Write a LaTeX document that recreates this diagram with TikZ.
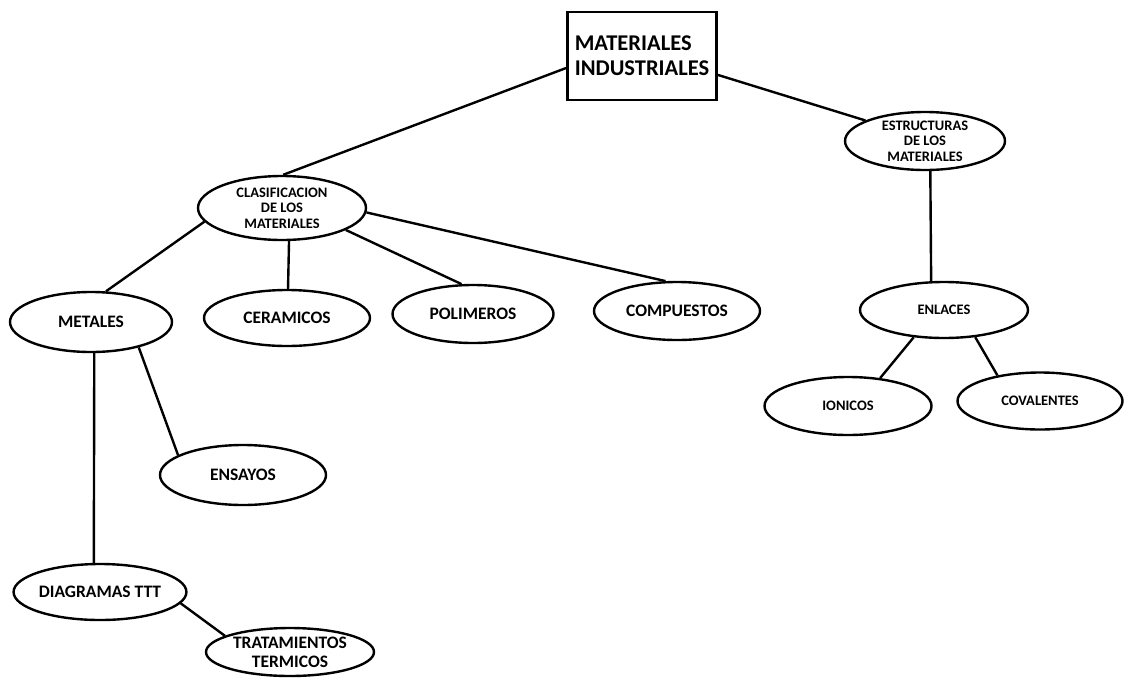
\documentclass[tikz,border=0pt]{standalone}
\usepackage{fontspec}
\setmainfont{Carlito}
\usetikzlibrary{shapes.geometric}
\tikzset{
  ov/.style={draw, ellipse, line width=2.4pt, inner sep=0pt, align=center, font=\bfseries\fontsize{17.5}{19}\selectfont},
  ovs/.style={ov, font=\bfseries\fontsize{14.5}{15.5}\selectfont},
  link/.style={line width=2.4pt},
}
\begin{document}
\begin{tikzpicture}[x=1pt,y=-1pt]
\useasboundingbox (0,0) rectangle (1124,678);
\node[draw, line width=2.8pt, minimum width=149pt, minimum height=88pt, inner sep=0pt, align=left, font=\bfseries\fontsize{22.5}{25}\selectfont] (box) at (642,56) {MATERIALES\\INDUSTRIALES};
\node[ovs, minimum width=168pt, minimum height=64pt] (clas) at (282,208) {CLASIFICACION\\DE LOS\\MATERIALES};
\node[ovs, minimum width=160pt, minimum height=58pt] (est) at (925,141) {ESTRUCTURAS\\DE LOS\\MATERIALES};
\node[ov, minimum width=162pt, minimum height=60pt] (met) at (91,322) {METALES};
\node[ov, minimum width=166pt, minimum height=56pt] (cer) at (287,318) {CERAMICOS};
\node[ov, minimum width=161pt, minimum height=58pt] (pol) at (473,314) {POLIMEROS};
\node[ov, minimum width=166pt, minimum height=58pt] (com) at (677,311) {COMPUESTOS};
\node[ov, minimum width=166pt, minimum height=60pt] (ens) at (243,475) {ENSAYOS};
\node[ov, minimum width=166pt, minimum height=56pt] (dia) at (100,592) {DIAGRAMAS TTT};
\node[ov, minimum width=168pt, minimum height=48pt] (tra) at (290,652) {TRATAMIENTOS\\TERMICOS};
\node[ovs, minimum width=168pt, minimum height=56pt] (enl) at (944,310) {ENLACES};
\node[ovs, minimum width=167pt, minimum height=58pt] (ion) at (848,406) {IONICOS};
\node[ovs, minimum width=165pt, minimum height=57pt] (cov) at (1040,401) {COVALENTES};

\draw[link] (box.189) -- (clas.88);
\draw[link] (box.346) -- (est.161);
\draw[link] (est.280) -- (enl.114);
\draw[link] (clas.190) -- (met.64);
\draw[link] (clas.282) -- (cer.88);
\draw[link] (clas.341) -- (pol.111);
\draw[link] (clas.357) -- (com.111);
\draw[link] (met.276) -- (dia.102);
\draw[link] (met.332) -- (ens.163);
\draw[link] (dia.352) -- (tra.166);
\draw[link] (enl.222) -- (ion.41);
\draw[link] (enl.319) -- (cov.149);
\end{tikzpicture}
\end{document}
